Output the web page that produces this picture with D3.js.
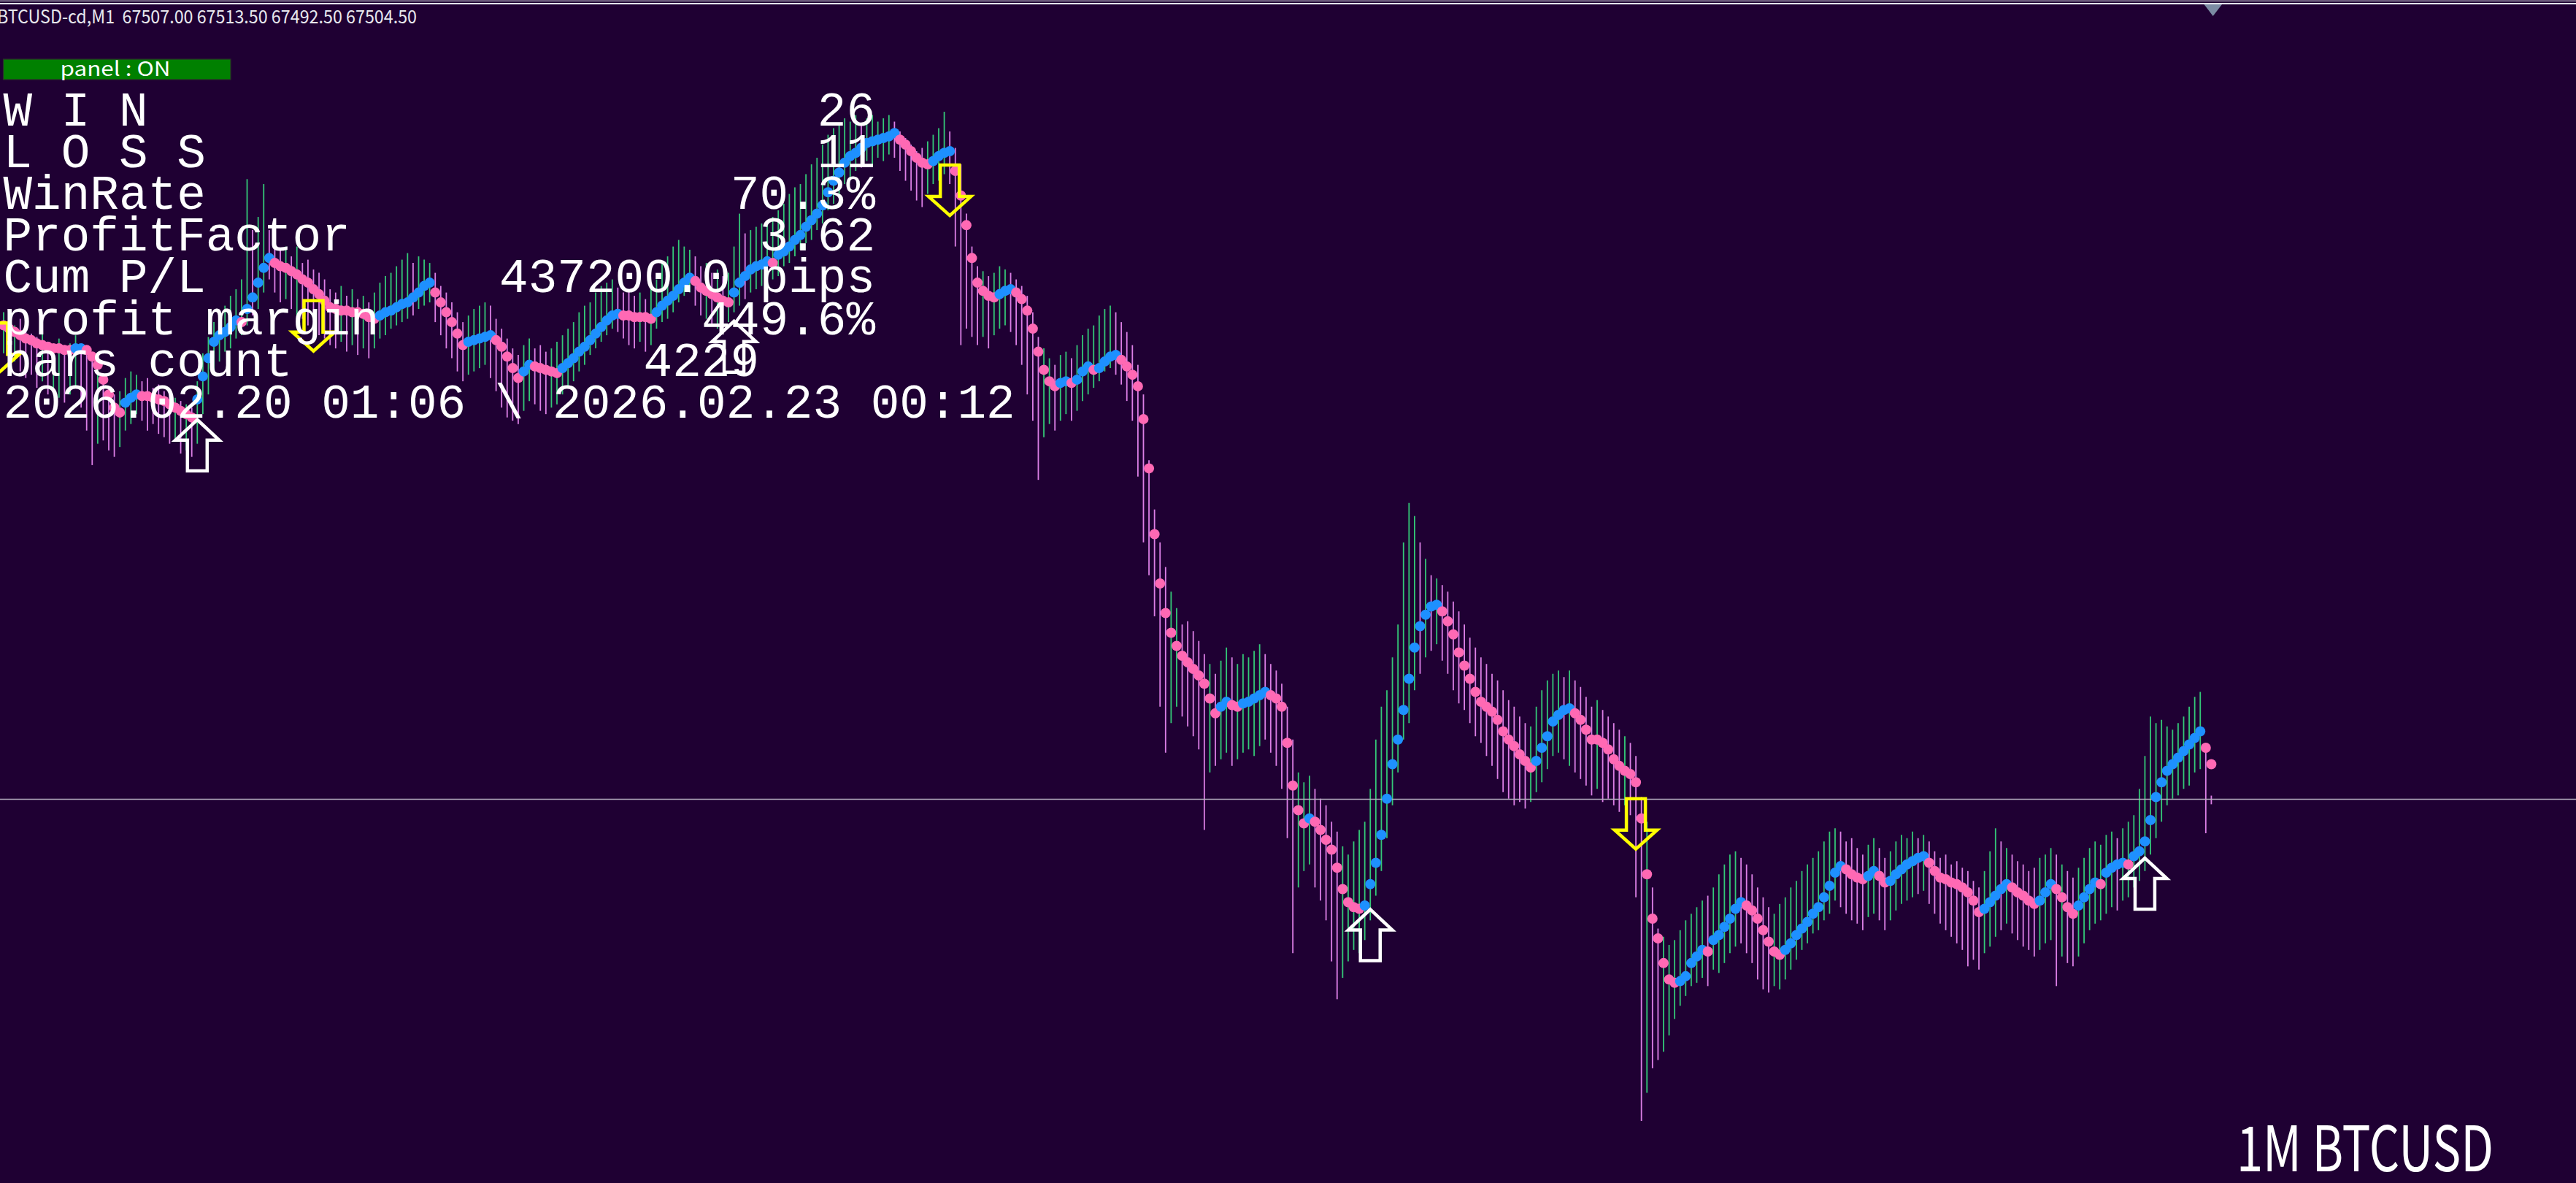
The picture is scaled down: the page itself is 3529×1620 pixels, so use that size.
<!DOCTYPE html>
<html><head><meta charset="utf-8">
<script src="https://cdn.jsdelivr.net/npm/d3@7"></script>
<style>html,body{margin:0;padding:0;background:#1f0033;overflow:hidden}</style>
</head><body>
<svg id="chart" width="3529" height="1620"></svg>
<script>
// ---------------- DATA ----------------
const symbolLabel = "BTCUSD-cd,M1";
const lastBarOHLC = [67507.00, 67513.50, 67492.50, 67504.50];

// trend-following indicator value per bar
const indicator = [
68658,68650,68642,68634,68626,68622,68614,68610,68606,68602,
68602,68598,68598,68602,68602,68598,68582,68562,68526,68490,
68458,68446,68470,68482,68490,68486,68486,68482,68478,68474,
68466,68458,68450,68442,68434,68478,68534,68578,68618,68634,
68642,68654,68670,68666,68698,68726,68762,68798,68822,68810,
68802,68798,68790,68782,68770,68762,68746,68734,68718,68702,
68698,68694,68694,68690,68690,68686,68678,68674,68682,68690,
68694,68702,68710,68714,68726,68738,68754,68762,68738,68714,
68690,68666,68638,68610,68618,68622,68626,68630,68634,68622,
68606,68582,68554,68530,68546,68562,68558,68554,68550,68546,
68542,68554,68566,68578,68594,68606,68622,68638,68654,68670,
68682,68686,68682,68682,68678,68678,68678,68674,68690,68706,
68718,68730,68746,68762,68774,68766,68750,68742,68734,68726,
68718,68714,68738,68762,68778,68794,68802,68806,68814,68810,
68830,68838,68850,68866,68878,68898,68914,68930,68950,68982,
69010,69030,69054,69070,69078,69090,69102,69106,69110,69114,
69118,69126,69110,69098,69082,69066,69054,69050,69058,69070,
69078,69082,69034,68974,68902,68822,68762,68742,68730,68726,
68734,68742,68746,68738,68722,68694,68650,68594,68550,68522,
68510,68518,68522,68518,68526,68546,68558,68550,68554,68570,
68582,68586,68574,68558,68538,68510,68430,68310,68150,68030,
67958,67910,67878,67854,67838,67822,67806,67786,67750,67714,
67730,67742,67734,67730,67738,67742,67750,67758,67766,67758,
67750,67730,67642,67538,67478,67446,67458,67450,67430,67406,
67382,67338,67286,67254,67242,67238,67246,67298,67350,67418,
67506,67590,67650,67722,67798,67874,67926,67954,67974,67978,
67962,67938,67906,67862,67830,67798,67766,67742,67730,67718,
67698,67670,67650,67634,67614,67598,67582,67598,67630,67658,
67694,67710,67722,67726,67714,67698,67674,67650,67650,67642,
67626,67602,67586,67574,67566,67546,67458,67322,67214,67166,
67106,67066,67058,67062,67074,67106,67122,67138,67134,67162,
67174,67194,67214,67238,67254,67246,67234,67214,67186,67158,
67134,67126,67138,67154,67174,67190,67206,67226,67242,67266,
67294,67326,67342,67334,67322,67314,67310,67318,67330,67318,
67302,67306,67322,67334,67346,67354,67362,67366,67350,67330,
67314,67310,67302,67298,67290,67278,67258,67230,67238,67254,
67270,67286,67298,67290,67278,67270,67258,67250,67258,67278,
67298,67286,67266,67242,67226,67246,67266,67286,67302,67298,
67326,67338,67346,67350,67346,67366,67378,67402,67454,67510,
67546,67574,67590,67606,67622,67638,67654,67670,67630,67590
];

const highs = [
68690,68666,68658,68674,68650,68638,68630,68642,68618,68610,
68626,68602,68614,68634,68610,68594,68578,68570,68538,68506,
68490,68498,68530,68546,68538,68522,68530,68506,68514,68498,
68490,68482,68474,68466,68458,68522,68590,68630,68666,68690,
68706,68730,68746,68770,69014,68890,68922,69002,68890,68858,
68842,68850,68826,68850,68810,68818,68794,68786,68770,68746,
68738,68754,68730,68746,68722,68730,68714,68738,68762,68778,
68786,68802,68818,68834,68810,68826,68818,68810,68786,68754,
68738,68714,68690,68666,68682,68698,68706,68714,68706,68674,
68650,68626,68602,68586,68610,68626,68602,68610,68594,68602,
68618,68634,68650,68666,68690,68706,68714,68738,68754,68762,
68770,68750,68738,68746,68730,68738,68722,68746,68770,68810,
68826,68850,68866,68850,68842,68826,68802,68810,68786,68794,
68778,68786,68850,68930,68882,68890,68898,68906,68914,68922,
68938,68954,68978,68994,69002,69026,69050,69066,69098,69122,
69138,69146,69162,69154,69170,69146,69162,69170,69154,69162,
69170,69154,69130,69114,69098,69082,69090,69106,69122,69138,
69178,69130,69090,69050,68930,68850,68802,68790,68778,68786,
68802,68794,68786,68770,68754,68730,68690,68630,68602,68578,
68562,68586,68594,68578,68610,68634,68650,68658,68682,68698,
68706,68690,68666,68642,68610,68562,68490,68330,68210,68130,
68070,68010,67970,67930,67938,67914,67890,67858,67834,67810,
67842,67874,67850,67834,67858,67850,67866,67882,67858,67834,
67818,67786,67730,67650,67570,67546,67562,67530,67506,67490,
67450,67426,67390,67370,67402,67430,67450,67530,67650,67730,
67770,67850,67930,68130,68226,68194,68130,68090,68050,68042,
68026,68010,67986,67962,67930,67898,67874,67850,67834,67810,
67794,67770,67746,67730,67706,67690,67682,67730,67770,67794,
67810,67818,67802,67818,67794,67778,67754,67730,67746,67722,
67706,67690,67674,67658,67642,67610,67510,67450,67290,67190,
67170,67150,67162,67186,67210,67226,67242,67258,67270,67290,
67322,67346,67370,67378,67362,67346,67322,67290,67266,67242,
67226,67250,67266,67290,67306,67330,67346,67362,67378,67402,
67426,67434,67426,67402,67410,67386,67370,67394,67410,67386,
67362,67378,67402,67418,67410,67426,67410,67418,67402,67378,
67362,67370,67346,67354,67338,67330,67306,67290,67330,67378,
67434,67402,67386,67370,67354,67346,67330,67338,67362,67370,
67386,67370,67346,67330,67314,67338,67362,67386,67402,67394,
67418,67426,67410,67434,67450,67466,67530,67610,67706,67690,
67698,67682,67674,67690,67706,67730,67754,67766,67630,67513.5
];

const lows = [
68590,68562,68570,68546,68530,68538,68506,68522,68490,68498,
68482,68470,68490,68506,68458,68402,68318,68370,68378,68354,
68338,68362,68402,68418,68442,68426,68402,68418,68394,68386,
68370,68378,68346,68354,68338,68370,68442,68490,68538,68570,
68594,68602,68626,68634,68658,68682,68698,68738,68770,68738,
68714,68722,68698,68682,68674,68658,68650,68634,68626,68610,
68602,68618,68594,68610,68586,68602,68578,68602,68626,68634,
68650,68658,68666,68674,68682,68698,68706,68714,68666,68634,
68602,68578,68546,68522,68538,68546,68554,68562,68530,68498,
68458,68434,68426,68418,68450,68474,68466,68450,68442,68458,
68466,68490,68506,68522,68546,68562,68586,68602,68618,68634,
68650,68642,68626,68610,68602,68618,68594,68610,68650,68666,
68674,68690,68714,68730,68738,68706,68682,68674,68658,68650,
68642,68666,68690,68706,68722,68738,68746,68754,68762,68770,
68778,68802,68810,68826,68842,68858,68866,68890,68906,68938,
68954,68978,69002,69018,69034,69042,69058,69050,69066,69058,
69074,69066,69034,69010,68986,68962,68946,68978,69002,69010,
69026,69002,68850,68610,68650,68630,68610,68630,68602,68634,
68650,68658,68642,68610,68562,68490,68426,68282,68386,68418,
68402,68426,68442,68426,68450,68474,68490,68506,68522,68546,
68554,68538,68514,68474,68426,68290,68130,68050,67950,67730,
67618,67690,67730,67706,67682,67658,67626,67430,67570,67586,
67602,67618,67586,67602,67618,67626,67610,67634,67650,67618,
67586,67530,67410,67130,67290,67330,67346,67290,67258,67210,
67110,67018,67070,67110,67138,67130,67162,67210,67270,67330,
67410,67490,67570,67650,67690,67770,67810,67850,67866,67882,
67842,67810,67770,67738,67722,67690,67658,67642,67610,67586,
67554,67522,67506,67490,67498,67482,67498,67522,67546,67578,
67610,67618,67602,67586,67570,67554,67538,67514,67530,67498,
67506,67490,67474,67490,67466,67266,66722,66790,66850,66870,
66890,66930,66970,67002,67026,67050,67058,67070,67050,67090,
67082,67106,67130,67146,67154,67130,67106,67066,67042,67034,
67050,67042,67066,67090,67114,67138,67154,67178,67186,67210,
67226,67258,67242,67226,67210,67202,67186,67218,67226,67210,
67186,67210,67234,67250,67258,67266,67274,67282,67250,67226,
67202,67186,67170,67154,67138,67098,67114,67090,67130,67146,
67170,67186,67202,67178,67162,67146,67138,67122,67138,67154,
67162,67050,67122,67106,67098,67122,67154,67186,67202,67210,
67226,67242,67234,67258,67266,67290,67306,67330,67370,67410,
67450,67490,67506,67514,67530,67538,67570,67578,67422,67492.5
];

// entry signals (bar index, arrow-tip price)
const upSignalBars = [35, 132, 247, 387];
const upSignalPrices = [68432, 68672, 67240, 67365];
const downSignalBars = [-1, 56, 171, 295];
const downSignalPrices = [68538, 68592, 68922, 67380];

// statistics panel
const statLabels = ["W I N", "L O S S", "WinRate", "ProfitFactor", "Cum P/L", "profit margin", "bars count"];
const statValues = ["26", "11", "70.3%", "3.62", "437200.0 pips", "449.6%", "4229"];
const periodText = "2026.02.20 01:06 \\ 2026.02.23 00:12";
const panelText = "panel : ON";
const cornerTitle = "1M BTCUSD";

// ---------------- DRAW ----------------
const W = 3529, H = 1620;
const svg = d3.select("#chart");
const x = d3.scaleLinear().domain([0, indicator.length - 1]).range([5, 3029.4]);
const y = d3.scaleLinear().domain([66570, 69450]).range([1620.4, 0]);

svg.append("rect").attr("width", W).attr("height", H).attr("fill", "#1f0033");
// window top frame
svg.append("rect").attr("x", 0).attr("y", 0).attr("width", W).attr("height", 2.5).attr("fill", "#6b5a7c");
svg.append("rect").attr("x", 0).attr("y", 4).attr("width", W).attr("height", 2).attr("fill", "#e4e4ec");

// OHLC bars as high-low lines
const GREEN = "#34c878", VIOLET = "#dc7fe6";
svg.append("g").selectAll("line").data(highs).join("line")
  .attr("x1", (d, i) => x(i)).attr("x2", (d, i) => x(i))
  .attr("y1", d => y(d)).attr("y2", (d, i) => y(lows[i]))
  .attr("stroke", (d, i) => (i > 0 && (d + lows[i]) < (highs[i - 1] + lows[i - 1])) ? VIOLET : GREEN)
  .attr("stroke-width", 1.8);

// bid line
svg.append("line").attr("x1", 0).attr("x2", W)
  .attr("y1", y(lastBarOHLC[3])).attr("y2", y(lastBarOHLC[3]))
  .attr("stroke", "#b4aebe").attr("stroke-width", 1.5);

// indicator dots coloured by direction
let trend = -1;
const dotColor = indicator.map((v, i) => {
  if (i > 0) { if (v > indicator[i - 1]) trend = 1; else if (v < indicator[i - 1]) trend = -1; }
  return trend > 0 ? "#1e90ff" : "#ff69b4";
});
svg.append("g").selectAll("circle").data(indicator).join("circle")
  .attr("cx", (d, i) => x(i)).attr("cy", d => y(d)).attr("r", 7)
  .attr("fill", (d, i) => dotColor[i]);

// arrows
const upPath = "M0,2 L30,30 L13.5,30 L13.5,72 L-13.5,72 L-13.5,30 L-30,30 Z";
const downPath = "M0,-2 L29,-28 L13,-28 L13,-71 L-13,-71 L-13,-28 L-29,-28 Z";
svg.append("g").selectAll("path").data(upSignalBars).join("path")
  .attr("d", upPath)
  .attr("transform", (d, k) => `translate(${x(d)},${y(upSignalPrices[k])})`)
  .attr("fill", "none").attr("stroke", "#ffffff").attr("stroke-width", 4.5);
svg.append("g").selectAll("path").data(downSignalBars).join("path")
  .attr("d", downPath)
  .attr("transform", (d, k) => `translate(${x(d)},${y(downSignalPrices[k])})`)
  .attr("fill", "none").attr("stroke", "#ffff00").attr("stroke-width", 4.5);

// header
svg.append("text").attr("x", -4).attr("y", 32)
  .attr("font-family", "Noto Sans CJK JP, Liberation Sans, sans-serif").attr("font-size", 25)
  .attr("fill", "#e8e8ee").style("white-space", "pre")
  .attr("textLength", 575).attr("lengthAdjust", "spacingAndGlyphs")
  .text(symbolLabel + "  " + lastBarOHLC.map(v => v.toFixed(2)).join(" "));

// panel button
svg.append("rect").attr("x", 4.5).attr("y", 81).attr("width", 311.5).attr("height", 28)
  .attr("fill", "#008000").attr("stroke", "#2c2c2c").attr("stroke-width", 1.2);
svg.append("text").attr("x", 158).attr("y", 104).attr("text-anchor", "middle")
  .attr("font-family", "Noto Sans CJK JP, Liberation Sans, sans-serif").attr("font-size", 27)
  .attr("fill", "#ffffff").attr("textLength", 151).attr("lengthAdjust", "spacingAndGlyphs")
  .text(panelText);

// statistics text
const mono = "Liberation Mono, Courier New, monospace";
const rowY = k => 172 + 57.1 * k;
const valueRight = [1199, 1199, 1199, 1199, 1199, 1199, 1040];
const gStats = svg.append("g").attr("font-family", mono).attr("font-size", 66).attr("fill", "#ffffff");
gStats.selectAll("text.lbl").data(statLabels).join("text").attr("class", "lbl")
  .attr("x", 4.5).attr("y", (d, k) => rowY(k)).style("white-space", "pre").text(d => d);
gStats.selectAll("text.val").data(statValues).join("text").attr("class", "val")
  .attr("x", (d, k) => valueRight[k]).attr("y", (d, k) => rowY(k))
  .attr("text-anchor", "end").style("white-space", "pre").text(d => d);
gStats.append("text").attr("x", 4.5).attr("y", rowY(7)).style("white-space", "pre").text(periodText);

// corner title
svg.append("text").attr("x", 3064).attr("y", 1604)
  .attr("font-family", "Noto Sans CJK JP, Liberation Sans, sans-serif").attr("font-size", 86)
  .attr("fill", "#ffffff").attr("textLength", 352).attr("lengthAdjust", "spacingAndGlyphs")
  .text(cornerTitle);

// chart-shift marker
svg.append("polygon").attr("points", "3019.5,6 3044,6 3031.7,22").attr("fill", "#7b8ba3");
</script>
</body></html>
